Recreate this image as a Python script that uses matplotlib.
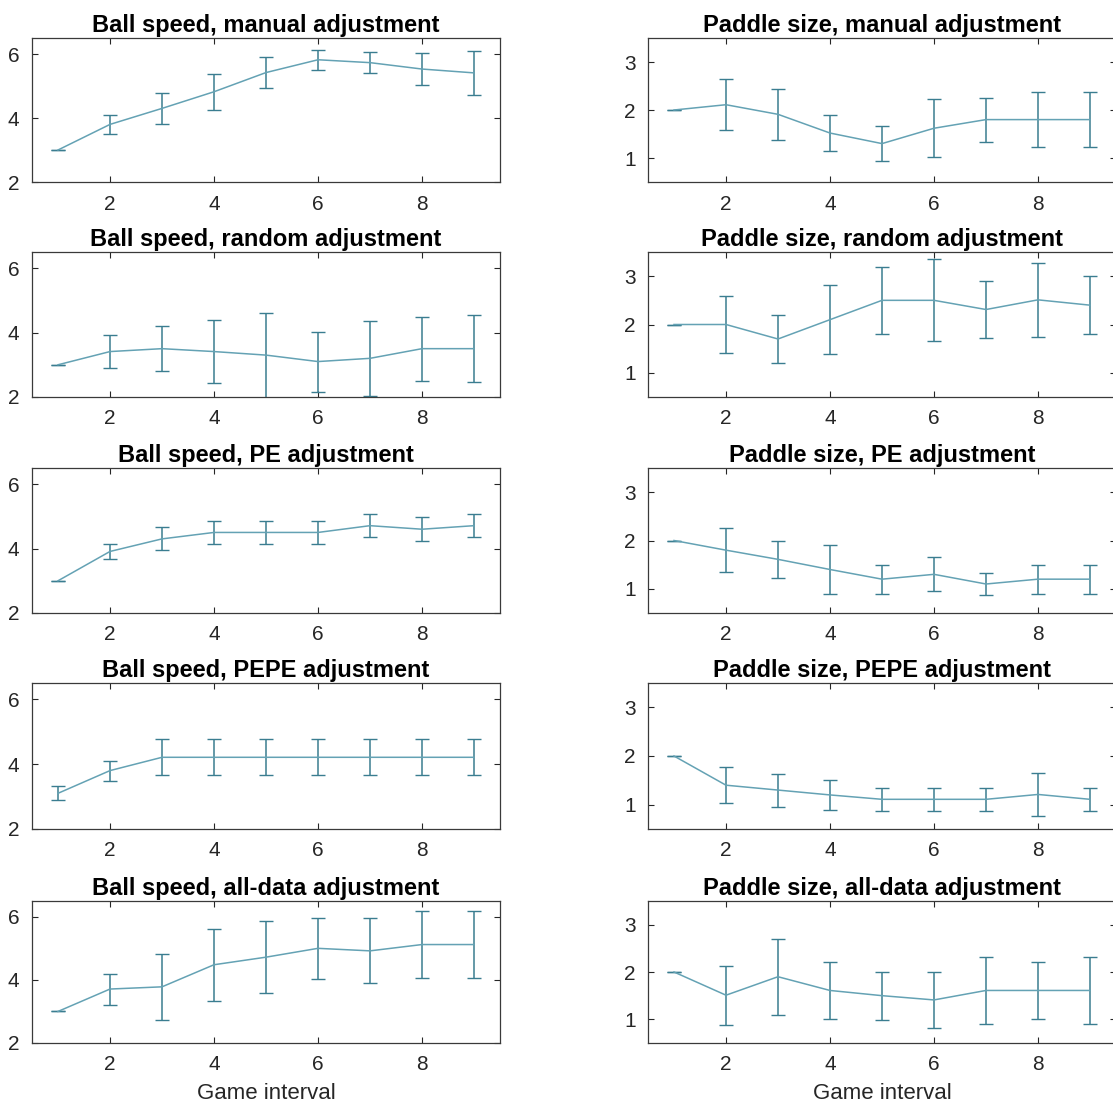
import matplotlib
matplotlib.use("Agg")
import matplotlib.pyplot as plt

plt.rcParams['font.family'] = ['Liberation Sans', 'DejaVu Sans']

x = [1, 2, 3, 4, 5, 6, 7, 8, 9]

# ball speed: means and error half-widths
ball_titles = ["Ball speed, manual adjustment", "Ball speed, random adjustment",
               "Ball speed, PE adjustment", "Ball speed, PEPE adjustment",
               "Ball speed, all-data adjustment"]
ball_manual = [3.0, 3.8, 4.3, 4.82, 5.42, 5.82, 5.73, 5.53, 5.41]
ball_manual_err = [0, 0.29, 0.49, 0.57, 0.49, 0.32, 0.33, 0.51, 0.68]
ball_random = [3.0, 3.41, 3.5, 3.41, 3.3, 3.1, 3.2, 3.5, 3.5]
ball_random_err = [0, 0.52, 0.7, 0.98, 1.32, 0.93, 1.16, 0.99, 1.03]
ball_pe = [3.0, 3.91, 4.3, 4.5, 4.5, 4.5, 4.71, 4.6, 4.71]
ball_pe_err = [0, 0.22, 0.36, 0.37, 0.37, 0.37, 0.35, 0.37, 0.35]
ball_pepe = [3.1, 3.8, 4.21, 4.21, 4.21, 4.21, 4.21, 4.21, 4.21]
ball_pepe_err = [0.22, 0.31, 0.55, 0.55, 0.55, 0.55, 0.55, 0.55, 0.55]
ball_all = [3.0, 3.71, 3.78, 4.48, 4.72, 5.0, 4.92, 5.12, 5.12]
ball_all_err = [0, 0.49, 1.04, 1.14, 1.14, 0.97, 1.03, 1.05, 1.05]

# paddle size: means and error half-widths
paddle_titles = ["Paddle size, manual adjustment", "Paddle size, random adjustment",
                 "Paddle size, PE adjustment", "Paddle size, PEPE adjustment",
                 "Paddle size, all-data adjustment"]
paddle_manual = [2.0, 2.11, 1.91, 1.52, 1.3, 1.62, 1.8, 1.8, 1.8]
paddle_manual_err = [0, 0.53, 0.53, 0.38, 0.36, 0.6, 0.46, 0.58, 0.58]
paddle_random = [2.0, 2.0, 1.7, 2.1, 2.5, 2.5, 2.31, 2.51, 2.4]
paddle_random_err = [0, 0.58, 0.49, 0.71, 0.69, 0.85, 0.59, 0.77, 0.6]
paddle_pe = [2.0, 1.8, 1.61, 1.4, 1.2, 1.3, 1.1, 1.2, 1.2]
paddle_pe_err = [0, 0.45, 0.38, 0.5, 0.3, 0.35, 0.22, 0.3, 0.3]
paddle_pepe = [2.0, 1.4, 1.3, 1.2, 1.11, 1.11, 1.11, 1.21, 1.11]
paddle_pepe_err = [0, 0.37, 0.34, 0.3, 0.23, 0.23, 0.23, 0.45, 0.23]
paddle_all = [2.0, 1.51, 1.9, 1.61, 1.5, 1.41, 1.61, 1.61, 1.61]
paddle_all_err = [0, 0.62, 0.8, 0.6, 0.51, 0.6, 0.7, 0.6, 0.7]

ball = [(ball_manual, ball_manual_err), (ball_random, ball_random_err),
        (ball_pe, ball_pe_err), (ball_pepe, ball_pepe_err), (ball_all, ball_all_err)]
paddle = [(paddle_manual, paddle_manual_err), (paddle_random, paddle_random_err),
          (paddle_pe, paddle_pe_err), (paddle_pepe, paddle_pepe_err),
          (paddle_all, paddle_all_err)]

W, H = 1113, 1104
fig = plt.figure(figsize=(W / 100, H / 100), dpi=100)

rows = [(38, 182), (252, 397), (468, 613), (683, 829), (901, 1043)]
cols = [(32, 500), (648, 1116)]

line_c = '#64a2b4'
err_c = '#3a7d90'
dark = '#262626'


def panel(ax, y, e, title, ylim, yticks, last):
    ax.errorbar(x, y, yerr=e, color=line_c, ecolor=err_c, lw=1.1,
                elinewidth=1.1, capsize=4.8, capthick=1.0)
    ax.set_xlim(0.5, 9.5)
    ax.set_ylim(*ylim)
    ax.set_xticks([2, 4, 6, 8])
    ax.set_yticks(yticks)
    ax.tick_params(direction='in', top=True, right=True, length=4,
                   width=0.8, color=dark, labelcolor=dark, labelsize=15, pad=9)
    for s in ax.spines.values():
        s.set_color('#3a3a3a')
        s.set_linewidth(0.9)
    ax.set_title(title, fontsize=17, fontweight='bold', pad=4)
    if last:
        ax.set_xlabel("Game interval", fontsize=16, color=dark, labelpad=6)


for i, (top, bot) in enumerate(rows):
    for j, (l, r) in enumerate(cols):
        ax = fig.add_axes([l / W, 1 - bot / H, (r - l) / W, (bot - top) / H])
        if j == 0:
            y, e = ball[i]
            panel(ax, y, e, ball_titles[i], (2, 6.5), [2, 4, 6], i == 4)
        else:
            y, e = paddle[i]
            panel(ax, y, e, paddle_titles[i], (0.5, 3.5), [1, 2, 3], i == 4)

fig.savefig("out.png", dpi=100)
